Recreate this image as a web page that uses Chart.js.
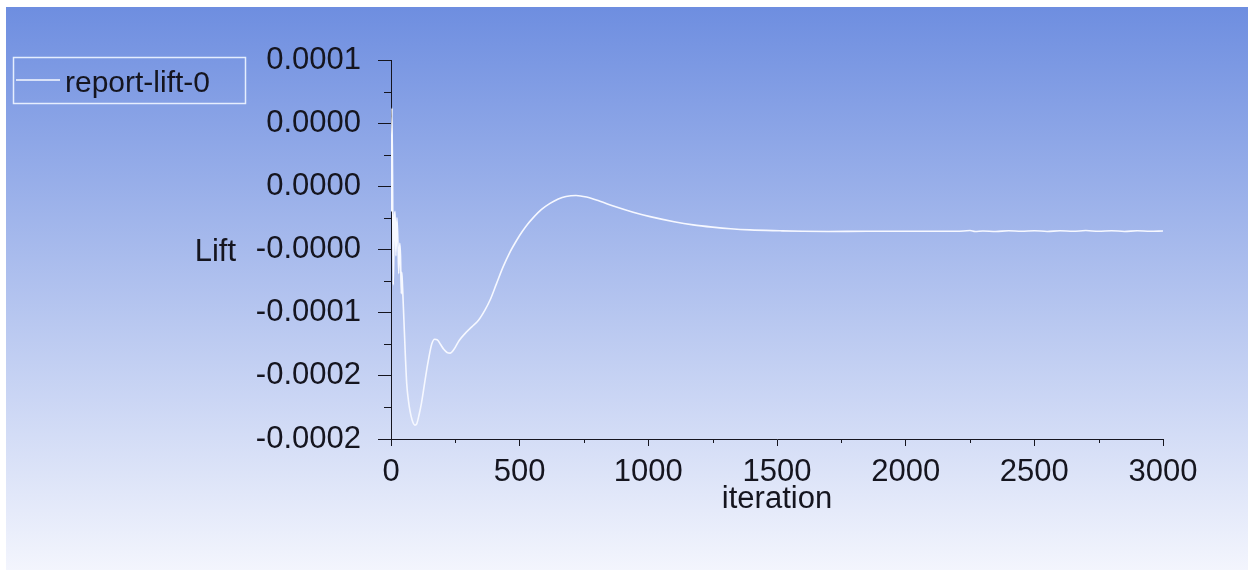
<!DOCTYPE html>
<html>
<head>
<meta charset="utf-8">
<style>
  html, body { margin: 0; padding: 0; background: #fff; }
  #wrap { width: 1251px; height: 576px; }
</style>
<script src="https://cdn.jsdelivr.net/npm/chart.js@4.4.1/dist/chart.umd.min.js"></script>
</head>
<body>
<div id="wrap"><canvas id="liftChart" width="1251" height="576"></canvas></div>
<script>
// Serie (iteracao, lift)
const seriesName = 'report-lift-0';
const iterations = [
  1, 4, 9, 13, 16, 19, 23, 27, 30, 34, 37, 40, 42, 45, 50, 56, 61, 68, 74, 82,
  93, 100, 110, 118, 126, 135, 145, 158, 170, 180, 192, 205, 218, 230, 245, 265,
  290, 315, 340, 365, 385, 410, 436, 460, 489, 510, 530, 553, 585, 618, 650, 680,
  719, 760, 812, 870, 941, 1007, 1100, 1174, 1250, 1320, 1395, 1512, 1600, 1700,
  1850, 2000, 2100, 2200, 2250, 2270, 2300, 2350, 2400, 2450, 2500, 2550, 2600,
  2650, 2700, 2750, 2800, 2850, 2900, 2950, 3000
];
const liftValues = [
  -0.20e-4, 0.62e-4, -0.78e-4, -0.25e-4, -0.20e-4, -0.55e-4, -0.25e-4, -0.45e-4, -0.69e-4, -0.45e-4,
  -0.55e-4, -0.85e-4, -0.68e-4, -0.80e-4, -1.05e-4, -1.35e-4, -1.56e-4, -1.70e-4, -1.78e-4, -1.85e-4,
  -1.89e-4, -1.88e-4, -1.80e-4, -1.72e-4, -1.62e-4, -1.50e-4, -1.38e-4, -1.25e-4, -1.21e-4, -1.215e-4,
  -1.25e-4, -1.29e-4, -1.315e-4, -1.32e-4, -1.29e-4, -1.22e-4, -1.16e-4, -1.11e-4, -1.06e-4, -0.98e-4,
  -0.90e-4, -0.77e-4, -0.636e-4, -0.53e-4, -0.425e-4, -0.358e-4, -0.302e-4, -0.248e-4, -0.183e-4, -0.135e-4,
  -0.10e-4, -0.08e-4, -0.072e-4, -0.085e-4, -0.118e-4, -0.16e-4, -0.205e-4, -0.24e-4, -0.28e-4, -0.305e-4,
  -0.323e-4, -0.336e-4, -0.345e-4, -0.352e-4, -0.356e-4, -0.357e-4, -0.356e-4, -0.356e-4, -0.355e-4, -0.356e-4,
  -0.350e-4, -0.358e-4, -0.353e-4, -0.357e-4, -0.352e-4, -0.356e-4, -0.351e-4, -0.357e-4, -0.352e-4, -0.356e-4,
  -0.350e-4, -0.356e-4, -0.351e-4, -0.357e-4, -0.352e-4, -0.356e-4, -0.353e-4
];

// Marcas dos eixos
const xTickValues = [0, 500, 1000, 1500, 2000, 2500, 3000];
const yTickValues = [-2e-4, -1.5e-4, -1e-4, -0.5e-4, 0, 0.5e-4, 1e-4];
const yTickLabels = ['-0.0002', '-0.0002', '-0.0001', '-0.0000', '0.0000', '0.0000', '0.0001'];
const xTitle = 'iteration';
const yTitle = 'Lift';

const FONT = '"Liberation Sans", Arial, sans-serif';
const INK = '#15151f';

// Fundo em degrade (estilo Fluent)
const backgroundPlugin = {
  id: 'fluentBackground',
  beforeDraw(chart) {
    const c = chart.ctx;
    const g = c.createLinearGradient(0, 7, 0, chart.height - 6);
    g.addColorStop(0, '#6e8ee0');
    g.addColorStop(1, '#f3f5fd');
    c.save();
    c.fillStyle = '#ffffff';
    c.fillRect(0, 0, chart.width, chart.height);
    c.fillStyle = g;
    c.fillRect(6, 7, chart.width - 9, chart.height - 13);
    c.restore();
  }
};

// Marcas menores, titulos e legenda
const decorPlugin = {
  id: 'fluentDecor',
  afterDraw(chart) {
    const c = chart.ctx;
    const area = chart.chartArea;
    const xs = chart.scales.x;
    const ys = chart.scales.y;
    c.save();
    c.strokeStyle = INK;
    c.lineWidth = 1;
    c.beginPath();
    for (let i = 0; i < yTickValues.length - 1; i++) {
      const py = Math.round(ys.getPixelForValue((yTickValues[i] + yTickValues[i + 1]) / 2)) + 0.5;
      c.moveTo(area.left - 7, py);
      c.lineTo(area.left, py);
    }
    for (let i = 0; i < xTickValues.length - 1; i++) {
      const px = Math.round(xs.getPixelForValue((xTickValues[i] + xTickValues[i + 1]) / 2)) + 0.5;
      c.moveTo(px, area.bottom);
      c.lineTo(px, area.bottom + 4);
    }
    c.stroke();

    c.fillStyle = INK;
    c.font = '31px ' + FONT;
    c.textBaseline = 'alphabetic';
    c.textAlign = 'center';
    c.fillText(xTitle, (area.left + area.right) / 2, area.bottom + 69);
    c.textAlign = 'right';
    c.fillText(yTitle, 236, (area.top + area.bottom) / 2 + 11);

    // Legenda
    const ds = chart.data.datasets[0];
    c.strokeStyle = 'rgba(235, 242, 255, 0.95)';
    c.lineWidth = 1.5;
    c.strokeRect(13.5, 57.5, 232, 46);
    c.strokeStyle = ds.borderColor;
    c.lineWidth = 1.5;
    c.beginPath();
    c.moveTo(16, 80);
    c.lineTo(60, 80);
    c.stroke();
    c.fillStyle = INK;
    c.textAlign = 'left';
    c.font = '30px ' + FONT;
    c.fillText(ds.label, 65, 92);
    c.restore();
  }
};

const chart = new Chart(document.getElementById('liftChart'), {
  type: 'line',
  data: {
    datasets: [{
      label: seriesName,
      data: iterations.map((it, i) => ({ x: it, y: liftValues[i] })),
      borderColor: '#f6f8ff',
      borderWidth: 1.6,
      pointRadius: 0,
      cubicInterpolationMode: 'monotone',
      fill: false
    }]
  },
  options: {
    responsive: false,
    animation: false,
    layout: { padding: { left: 0, top: 60, right: 88, bottom: 57 } },
    plugins: { legend: { display: false }, tooltip: { enabled: false } },
    scales: {
      x: {
        type: 'linear',
        min: 0,
        max: 3000,
        afterBuildTicks: s => { s.ticks = xTickValues.map(v => ({ value: v })); },
        afterFit: s => { s.height = 80; },
        grid: { drawOnChartArea: false, tickLength: 7, color: INK },
        border: { color: INK, width: 1 },
        ticks: {
          color: INK,
          padding: 8,
          maxRotation: 0,
          font: { family: FONT, size: 31 },
          callback: v => String(v)
        }
      },
      y: {
        type: 'linear',
        min: -2e-4,
        max: 1e-4,
        afterBuildTicks: s => { s.ticks = yTickValues.map(v => ({ value: v })); },
        afterFit: s => { s.width = 391; },
        grid: { drawOnChartArea: false, tickLength: 13, color: INK },
        border: { color: INK, width: 1 },
        ticks: {
          color: INK,
          padding: 17,
          font: { family: FONT, size: 31 },
          callback: (v, i) => yTickLabels[i]
        }
      }
    }
  },
  plugins: [backgroundPlugin, decorPlugin]
});
</script>
</body>
</html>
